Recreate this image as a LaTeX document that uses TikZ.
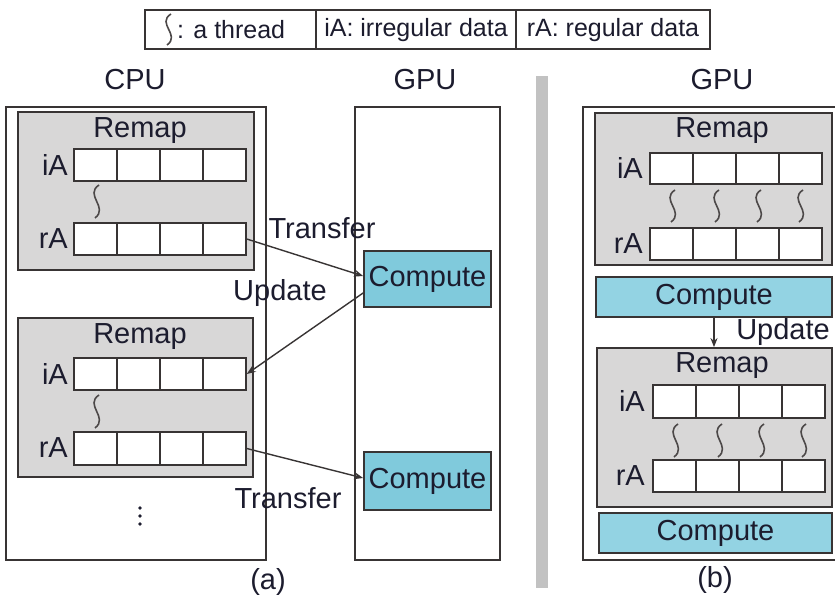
\documentclass[tikz,border=0pt]{standalone}
\usepackage{fontspec}
\setmainfont{Liberation Sans}
\usetikzlibrary{arrows.meta}

\definecolor{edge}{HTML}{383434}
\definecolor{panel}{HTML}{D8D7D7}
\definecolor{comp}{HTML}{80CADC}
\definecolor{compb}{HTML}{93D3E3}
\definecolor{ink}{HTML}{1C1C2E}
\definecolor{divider}{HTML}{C2C2C2}

% rectangle node given by its corners: name, style, x1, y1, x2, y2, text
\newcommand\rectnode[7]{%
  \node[#2, minimum width={(#5)-(#3)}, minimum height={(#6)-(#4)}]
    (#1) at ({((#3)+(#5))/2},{((#4)+(#6))/2}) {#7};}
% a row of four data cells: name prefix, left x, top y, bottom y
\newcommand\cellrow[4]{%
  \foreach \k in {0,1,2,3} {\rectnode{#1\k}{cell}{#2+43*\k}{#3}{#2+43*\k+43}{#4}{}}}
% a thread glyph: centre x, top y, height
\newcommand\thread[3]{%
  \draw[threadline] (#1+3,#2) .. controls (#1-12,#2+0.30*#3) and (#1+13,#2+0.68*#3) .. (#1-1,#2+#3);}

\tikzset{
  txt/.style={text=ink, inner sep=0pt, font=\fontsize{29}{34}\selectfont},
  legtxt/.style={text=ink, inner sep=0pt, font=\fontsize{25}{30}\selectfont},
  frame/.style={draw=edge, line width=1.8pt, fill=white, inner sep=0pt},
  panelbox/.style={draw=edge, line width=1.8pt, fill=panel, inner sep=0pt},
  cell/.style={draw=edge, line width=1.5pt, fill=white, inner sep=0pt},
  compbox/.style={draw=edge, line width=1.8pt, fill=comp, inner sep=0pt, text=ink,
    font=\fontsize{29}{34}\selectfont},
  compboxb/.style={compbox, fill=compb},
  threadline/.style={draw=edge!90, line width=1.6pt},
  flow/.style={draw=edge, line width=1.4pt, -{Stealth[length=9pt,width=7pt]}},
  dotmark/.style={fill=ink},
}

\begin{document}
\begin{tikzpicture}[x=1pt, y=-1pt]
\useasboundingbox (0,0) rectangle (835,601);
\clip (0,0) rectangle (835,601);

% legend
\rectnode{leg}{frame}{145}{10}{710}{49}{}
\draw[edge, line width=1.8pt] (316,10) -- (316,49) (516,10) -- (516,49);
\thread{168}{14}{31}
\node[legtxt, anchor=west] (legA) at (177,30) {: a thread};
\node[legtxt] (legB) at (416,30) {iA: irregular data};
\node[legtxt] (legC) at (613,30) {rA: regular data};

% column headings
\node[txt] (hcpu) at (135,80) {CPU};
\node[txt] (hgpu) at (425,80) {GPU};
\node[txt] (hgpub) at (722,80) {GPU};

% separating bar
\fill[divider] (536,76) rectangle (548,588);

% ---------------- (a) ----------------
\rectnode{cpu}{frame}{6}{107}{266}{560}{}
\rectnode{gpu}{frame}{355}{107}{500}{560}{}

% first remap block on the CPU
\rectnode{pa1}{panelbox}{18}{112}{254}{270}{}
\node[txt] (ra1) at (140,131) {Remap};
\cellrow{ai}{74}{149}{181}
\cellrow{ar}{74}{223}{255}
\node[txt, anchor=east] (lai) at (68,165) {iA};
\node[txt, anchor=east] (lar) at (68,239) {rA};
\thread{96}{185}{33}

% second remap block on the CPU
\rectnode{pa2}{panelbox}{18}{318}{253}{477}{}
\node[txt] (ra2) at (140,337) {Remap};
\cellrow{bi}{74}{358}{390}
\cellrow{br}{74}{432}{465}
\node[txt, anchor=east] (lbi) at (68,374) {iA};
\node[txt, anchor=east] (lbr) at (68,448) {rA};
\thread{96}{395}{33}

% more remap blocks follow
\foreach \dy in {508,516,524} {\fill[dotmark] (140,\dy) circle (1.9pt);}

% compute kernels on the GPU
\rectnode{c1}{compbox}{364}{251}{491}{307}{Compute}
\rectnode{c2}{compbox}{364}{452}{491}{510}{Compute}

\draw[flow] (ar3.east) -- ([yshift=3pt]c1.west);
\draw[flow] ([yshift=-14pt]c1.west) -- (bi3.east);
\draw[flow] (br3.east) -- ([yshift=3pt]c2.west);

\node[txt] (t1) at (322,228) {Transfer};
\node[txt] (u1) at (280,293) {Update};
\node[txt] (t2) at (288,498) {Transfer};
\node[txt] (capa) at (268,582) {(a)};

% ---------------- (b) ----------------
\rectnode{gpub}{frame}{583}{107}{845}{560}{}

\rectnode{pb1}{panelbox}{595}{113}{832}{265}{}
\node[txt] (rb1) at (722,131) {Remap};
\cellrow{ci}{650}{153}{184}
\cellrow{cr}{650}{228}{260}
\node[txt, anchor=east] (lci) at (643,168) {iA};
\node[txt, anchor=east] (lcr) at (643,244) {rA};
\foreach \tx in {672,716,758,800} {\thread{\tx}{190}{32}}

\rectnode{cb1}{compboxb}{596}{277}{832}{317}{Compute}

\rectnode{pb2}{panelbox}{597}{348}{832}{507}{}
\node[txt] (rb2) at (722,366) {Remap};
\cellrow{di}{653}{385}{418}
\cellrow{dr}{653}{460}{492}
\node[txt, anchor=east] (ldi) at (645,401) {iA};
\node[txt, anchor=east] (ldr) at (645,476) {rA};
\foreach \tx in {675,719,761,803} {\thread{\tx}{424}{33}}

\rectnode{cb2}{compboxb}{599}{513}{832}{553}{Compute}

\draw[flow] (cb1.south) -- (cb1.south |- pb2.north);
\node[txt] (u2) at (783,332) {Update};
\node[txt] (capb) at (715,580) {(b)};
\end{tikzpicture}
\end{document}
